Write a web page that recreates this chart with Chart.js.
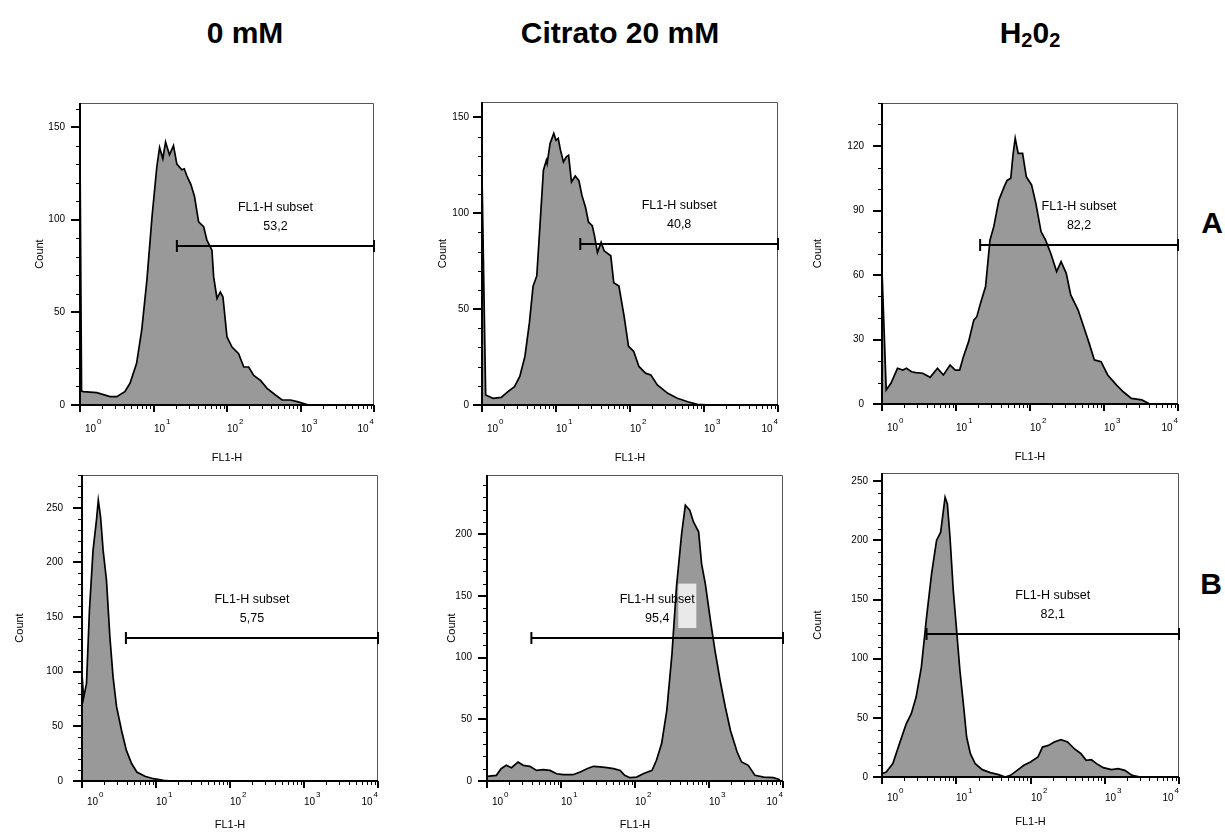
<!DOCTYPE html>
<html lang="es">
<head>
<meta charset="UTF-8">
<title>FL1-H histogramas</title>
<script src="https://cdn.jsdelivr.net/npm/chart.js@4.4.1/dist/chart.umd.min.js"></script>
<style>
  body { margin: 0; background: #fff; font-family: "Liberation Sans", Arial, sans-serif; }
  #fig { position: relative; width: 1225px; height: 838px; overflow: hidden; }
  .head { position: absolute; font-weight: bold; font-size: 30px; line-height: 30px; white-space: nowrap; transform: translateX(-50%); }
  .head sub { font-size: 20px; vertical-align: -4px; line-height: 0; }
  canvas { position: absolute; }
</style>
</head>
<body>
<div id="fig">
  <div class="head" style="left:245px; top:18px">0 mM</div>
  <div class="head" style="left:620px; top:18px">Citrato 20 mM</div>
  <div class="head" style="left:1030px; top:18px">H<sub>2</sub>0<sub>2</sub></div>
  <div class="head" style="left:1212px; top:208px">A</div>
  <div class="head" style="left:1211px; top:569px">B</div>
</div>
<script>
// FL1-H (x) and Count (y)
const a1Fl = [1, 1.05, 1.11, 1.69, 2.57, 3.16, 4.07, 4.79, 5.89, 6.92, 8.13, 9.55, 11.1, 12.1, 13.4, 14.6, 16.5, 18.7, 20.8, 24.3, 26.2, 28.5, 32.3, 36.2, 41.1, 48.1, 53.3, 62.4, 65.8, 73.1, 81.1, 88.1, 100, 117, 144, 169, 197, 231, 285, 351, 456, 562, 731, 902, 1230, 2820];
const a1Count = [137, 7.5, 7.2, 6.7, 4.5, 4.5, 7.2, 11.7, 22.5, 40.5, 67.4, 101.6, 128.6, 139, 133, 142, 135, 140, 130, 127, 127.5, 123.6, 119, 112.4, 98.9, 96.2, 89, 83.6, 69.2, 57.5, 61, 58.3, 36.7, 31.3, 27.7, 20.5, 20.5, 16, 13.3, 9, 5.4, 2.7, 2.7, 1.8, 0.2, 0];

const a2Fl = [1, 1.12, 1.41, 1.82, 2.24, 2.75, 3.24, 3.80, 4.37, 4.90, 5.50, 6.03, 6.76, 7.41, 7.59, 8.32, 9.33, 10, 10.7, 11.5, 12.6, 13.8, 14.8, 16.2, 18.2, 20.4, 22.4, 25.1, 27.5, 30.9, 33.1, 36.3, 40.7, 44.7, 55.0, 60.3, 70.8, 83.2, 95.5, 112, 132, 162, 191, 234, 324, 437, 603, 813, 1230];
const a2Count = [120, 5.2, 3.5, 4, 7, 9.6, 14.9, 25.3, 42.8, 62, 67.3, 91.8, 122.4, 127.6, 125.9, 136.4, 141.6, 138, 139, 132.9, 126.7, 129.4, 130.2, 116.3, 119.4, 117, 109.3, 103, 95.3, 93.5, 88.3, 79.5, 84.8, 80.4, 77.8, 63.8, 62, 46.3, 30.6, 28, 20.1, 16.6, 15.7, 10.5, 6.1, 3.5, 1.7, 0.3, 0];

const a3Fl = [1, 1.14, 1.32, 1.62, 1.91, 2.14, 2.51, 2.88, 3.55, 4.47, 5.62, 6.76, 8.32, 9.77, 11.2, 12.6, 14.8, 17.4, 19.1, 21.4, 25.1, 28.8, 32.4, 38.0, 44.7, 49.0, 55.0, 58.9, 63.1, 69.2, 79.4, 89.1, 105, 120, 141, 162, 191, 229, 263, 309, 355, 447, 550, 631, 741, 912, 1122, 1479, 1820, 2344, 3236, 4169, 6026];
const a3Count = [62, 6.5, 9.6, 16.6, 15.8, 16.6, 15, 14.6, 14.3, 12.4, 16.6, 13.5, 18.1, 15.8, 15.8, 22, 29, 39, 40.6, 46.8, 54.6, 76.3, 82.5, 94.9, 101, 104, 105, 115.8, 123.6, 116.6, 116.6, 105.7, 101.9, 93.3, 80.2, 76.3, 70, 61.6, 66.2, 60.8, 50.7, 43.7, 34.4, 28.2, 20.5, 19.7, 13.5, 8.8, 5.7, 2.6, 1.9, 0, 0];

const b1Fl = [1, 1.05, 1.15, 1.26, 1.41, 1.57, 1.66, 1.78, 1.93, 2.14, 2.38, 2.63, 2.93, 3.43, 3.98, 4.68, 5.50, 7.08, 9.23, 12.6, 16.2];
const b1Count = [98, 76, 89, 156, 211, 239, 257, 242, 211, 184, 132, 95, 68, 46, 28, 16, 8.2, 4.3, 2.1, 0.6, 0];

const b2Fl = [1, 1.34, 1.55, 1.82, 2.14, 2.63, 3.09, 3.80, 4.68, 5.75, 7.08, 8.71, 10.7, 14.5, 18.2, 22.4, 27.5, 33.9, 41.7, 51.3, 63.1, 72.4, 85.1, 105, 129, 170, 195, 229, 269, 316, 363, 427, 479, 550, 617, 724, 794, 891, 1047, 1202, 1413, 1660, 1950, 2399, 2754, 3388, 4169, 5495, 7413, 9120];
const b2Count = [3.8, 4.6, 10, 12.7, 10.8, 15.4, 12.7, 11.9, 8.6, 9.2, 8.6, 5.9, 5.1, 5.1, 7.3, 10, 11.9, 11.4, 10.8, 10, 8.6, 4.6, 2.7, 3.2, 5.9, 8.6, 16.8, 30.3, 57.3, 103, 157, 200.5, 223.5, 219.5, 210, 202, 176, 160, 130, 106, 81.6, 60, 41, 23.5, 15.4, 12.7, 4.6, 3.2, 2.7, 1];

const b3Fl = [1, 1.14, 1.40, 1.72, 2.12, 2.48, 2.88, 3.39, 3.98, 4.65, 5.43, 6.17, 6.70, 7.08, 7.59, 8.24, 9.12, 10.2, 11.2, 12.6, 13.8, 15.5, 18.0, 22.4, 28.8, 37.2, 45.7, 53.7, 66.1, 81.3, 100, 126, 145, 174, 209, 257, 316, 389, 479, 562, 661, 776, 955, 1230, 1514, 1862, 2344, 3020, 4786];
const b3Count = [2.8, 4.2, 11.3, 28.2, 45, 53.5, 67.6, 92.9, 135, 171.7, 200, 207, 225, 236.5, 230.9, 202.7, 157.7, 121, 90, 59, 33.8, 19.7, 11.3, 6.2, 3.7, 2, 0, 1.4, 5.6, 9.9, 12.7, 16.9, 25.3, 26.7, 29.6, 31.5, 29.6, 23.9, 19.7, 14.1, 14.6, 11.3, 7.9, 6.2, 7, 5.6, 1.4, 0, 0];

// gates: start / end on FL1-H, height in counts, % shown
const gateLow = [20.8, 21.3, 21.2, 3.92, 3.98, 3.98];
const gateHigh = [10000, 10000, 10000, 10000, 10000, 10000];
const gateLevel = [86, 84, 74, 131, 116, 121];
const gatePct = ['53,2', '40,8', '82,2', '5,75', '95,4', '82,1'];

// axes
const countMax = [163, 158, 140, 280, 248, 257];
const countMajor = [50, 50, 30, 50, 50, 50];
const decades = [1, 10, 100, 1000, 10000];
const decadeExp = ['0', '1', '2', '3', '4'];

const flData = [a1Fl, a2Fl, a3Fl, b1Fl, b2Fl, b3Fl];
const countData = [a1Count, a2Count, a3Count, b1Count, b2Count, b3Count];

// where each plot frame sits on the page
const frames = [
  { left: 80, top: 103, width: 294, height: 302, countOff: 40, tickPad: 15, labelOff: 24, titleOff: 53 },
  { left: 482, top: 102, width: 296, height: 303, countOff: 39, tickPad: 13, labelOff: 24, titleOff: 53 },
  { left: 882, top: 103, width: 296, height: 301, countOff: 64, tickPad: 18, labelOff: 24, titleOff: 53 },
  { left: 82, top: 475, width: 296, height: 306, countOff: 62, tickPad: 19, labelOff: 21, titleOff: 44 },
  { left: 487, top: 475, width: 296, height: 306, countOff: 35, tickPad: 15, labelOff: 21, titleOff: 44 },
  { left: 882, top: 473, width: 297, height: 304, countOff: 64, tickPad: 14, labelOff: 21, titleOff: 45 }
];
// light label background left behind in the Citrato B panel
const shadeBox = { panel: 4, xMin: 384, xMax: 674, yMin: 124, yMax: 160 };

Chart.defaults.font.family = '"Liberation Sans", Arial, sans-serif';

const histAxes = {
  id: 'histAxes',
  afterDatasetsDraw(chart, args, o) {
    const { ctx, chartArea: a, scales: { x, y } } = chart;
    ctx.save();

    if (o.shade) {
      const sx = x.getPixelForValue(o.shade.xMin), ex = x.getPixelForValue(o.shade.xMax);
      const sy = y.getPixelForValue(o.shade.yMax), ey = y.getPixelForValue(o.shade.yMin);
      ctx.fillStyle = 'rgba(255,255,255,0.78)';
      ctx.fillRect(sx, sy, ex - sx, ey - sy);
    }

    // frame
    ctx.strokeStyle = '#555';
    ctx.lineWidth = 1;
    ctx.beginPath();
    ctx.moveTo(a.left, a.top + 0.5);
    ctx.lineTo(a.right - 0.5, a.top + 0.5);
    ctx.lineTo(a.right - 0.5, a.bottom);
    ctx.stroke();
    ctx.strokeStyle = '#000';
    ctx.lineWidth = 2;
    ctx.beginPath();
    ctx.moveTo(a.left, a.top);
    ctx.lineTo(a.left, a.bottom);
    ctx.lineTo(a.right, a.bottom);
    ctx.stroke();

    // count ticks
    for (let v = 0; v <= y.max; v += 10) {
      const py = Math.round(y.getPixelForValue(v));
      const major = v % o.major === 0;
      ctx.lineWidth = major ? 2 : 1;
      ctx.beginPath();
      ctx.moveTo(a.left - (major ? 9 : 4), major ? py : py + 0.5);
      ctx.lineTo(a.left, major ? py : py + 0.5);
      ctx.stroke();
    }

    // log ticks + 10^n labels
    ctx.fillStyle = '#000';
    ctx.textBaseline = 'middle';
    ctx.textAlign = 'left';
    decades.forEach((d, i) => {
      const px = Math.round(x.getPixelForValue(d));
      ctx.lineWidth = 2;
      ctx.beginPath();
      ctx.moveTo(px, a.bottom);
      ctx.lineTo(px, a.bottom + 7);
      ctx.stroke();
      if (i < decades.length - 1) {
        ctx.lineWidth = 1;
        for (let k = 2; k <= 9; k++) {
          const mx = Math.round(x.getPixelForValue(d * k)) + 0.5;
          ctx.beginPath();
          ctx.moveTo(mx, a.bottom);
          ctx.lineTo(mx, a.bottom + 4);
          ctx.stroke();
        }
      }
      ctx.font = '10px "Liberation Sans", Arial, sans-serif';
      const wBase = ctx.measureText('10').width;
      ctx.font = '8px "Liberation Sans", Arial, sans-serif';
      const wExp = ctx.measureText(decadeExp[i]).width;
      let sx = px;
      if (i === 0) sx = px + 5;
      if (i === decades.length - 1) sx = px - wBase - wExp - 1;
      const ly = a.bottom + o.labelOff;
      ctx.font = '10px "Liberation Sans", Arial, sans-serif';
      ctx.fillText('10', sx, ly);
      ctx.font = '8px "Liberation Sans", Arial, sans-serif';
      ctx.fillText(decadeExp[i], sx + wBase + 1, ly - 7);
    });

    // gate
    const gy = Math.round(y.getPixelForValue(o.level));
    const gx1 = x.getPixelForValue(o.low), gx2 = x.getPixelForValue(o.high);
    ctx.lineWidth = 2;
    ctx.beginPath();
    ctx.moveTo(gx1, gy);
    ctx.lineTo(gx2, gy);
    ctx.moveTo(gx1, gy - 6);
    ctx.lineTo(gx1, gy + 6);
    ctx.moveTo(gx2, gy - 6);
    ctx.lineTo(gx2, gy + 6);
    ctx.stroke();
    const tx = x.getPixelForValue(Math.sqrt(o.low * o.high));
    ctx.textAlign = 'center';
    ctx.font = '12.5px "Liberation Sans", Arial, sans-serif';
    ctx.fillText('FL1-H subset', tx, gy - 38);
    ctx.fillText(o.pct, tx, gy - 19);
    ctx.restore();
  }
};

const fig = document.getElementById('fig');
frames.forEach((f, i) => {
  const yw = Math.ceil(f.countOff + 6.6);
  const xh = Math.round(f.titleOff + 6.6);
  // Chart.js reserves half a label height plus ticks.padding above the top tick
  const padTop = 6 + f.tickPad;
  const cv = document.createElement('canvas');
  cv.width = yw + f.width + 10;
  cv.height = padTop + f.height + xh;
  cv.style.left = (f.left - yw) + 'px';
  cv.style.top = (f.top - padTop) + 'px';
  fig.appendChild(cv);

  const major = countMajor[i];
  new Chart(cv, {
    type: 'line',
    data: {
      datasets: [{
        data: flData[i].map((v, j) => ({ x: v, y: countData[i][j] })),
        borderColor: '#000',
        borderWidth: 1.7,
        backgroundColor: '#999999',
        fill: 'origin',
        pointRadius: 0,
        tension: 0
      }]
    },
    options: {
      responsive: false,
      animation: false,
      devicePixelRatio: 1,
      layout: { padding: { top: padTop, right: 10, left: 0, bottom: 0 } },
      plugins: {
        legend: { display: false },
        tooltip: { enabled: false },
        histAxes: {
          major: major,
          labelOff: f.labelOff,
          low: gateLow[i],
          high: gateHigh[i],
          level: gateLevel[i],
          pct: gatePct[i],
          shade: shadeBox.panel === i ? shadeBox : null
        }
      },
      scales: {
        x: {
          type: 'logarithmic',
          min: 1,
          max: 10000,
          ticks: { display: false },
          grid: { display: false, drawTicks: false },
          border: { display: false },
          title: { display: true, text: 'FL1-H', color: '#000', font: { size: 11 }, padding: 0 },
          afterFit: s => { s.height = xh; }
        },
        y: {
          min: 0,
          max: countMax[i],
          ticks: {
            stepSize: 10,
            autoSkip: false,
            includeBounds: false,
            padding: f.tickPad,
            color: '#000',
            font: { size: 10 },
            callback: v => (v % major === 0 ? v : '')
          },
          grid: { display: false, drawTicks: false },
          border: { display: false },
          title: { display: true, text: 'Count', color: '#000', font: { size: 11 }, padding: 0 },
          afterFit: s => { s.width = yw; }
        }
      }
    },
    plugins: [histAxes]
  });
});
</script>
</body>
</html>
